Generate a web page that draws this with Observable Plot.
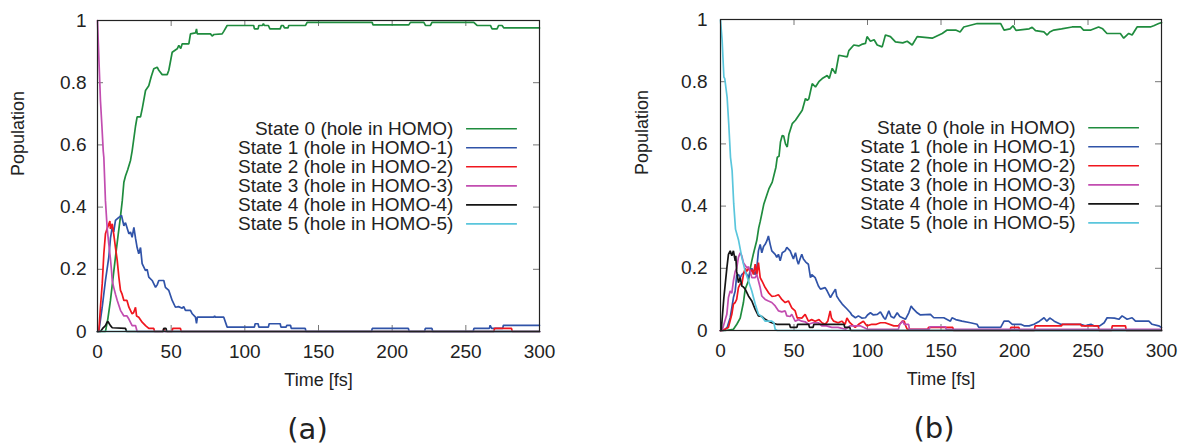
<!DOCTYPE html>
<html><head><meta charset="utf-8">
<script src="https://cdn.jsdelivr.net/npm/d3@7"></script>
<script src="https://cdn.jsdelivr.net/npm/@observablehq/plot@0.6"></script>
<style>
body{margin:0;background:#fff;}
#wrap{display:flex;width:1181px;height:448px;overflow:hidden;}
svg{display:block;}
</style>
</head><body><div id="wrap"></div>
<script>
// ---------- data ----------
const xTicks = [0, 50, 100, 150, 200, 250, 300];
const yTicks = [0, 0.2, 0.4, 0.6, 0.8, 1];
const stateLabels = [
  "State 0 (hole in HOMO)", "State 1 (hole in HOMO-1)", "State 2 (hole in HOMO-2)",
  "State 3 (hole in HOMO-3)", "State 4 (hole in HOMO-4)", "State 5 (hole in HOMO-5)"
];
const stateColors = ["#1f8c3e", "#3053a8", "#f0161e", "#c24db0", "#151515", "#5ac6dc"];
const panelLabels = ["(a)", "(b)"];
const xLabel = "Time [fs]";
const yLabel = "Population";

// panel (a): [time fs, population]
const a0 = [[0,0],[5.4,0],[7,0.04],[8.8,0.10],[10.5,0.17],[12.2,0.24],[14,0.31],[15.6,0.37],[16.8,0.42],[17.9,0.48],[19,0.5],[20.5,0.52],[22.4,0.55],[23.5,0.58],[25.8,0.66],[26.9,0.69],[29.2,0.69],[30.5,0.72],[32.6,0.775],[34.8,0.79],[36.5,0.82],[38.2,0.845],[40.5,0.85],[41.6,0.84],[43.9,0.826],[47.3,0.826],[48.4,0.84],[50.7,0.898],[54.1,0.909],[55.2,0.92],[56.5,0.91],[57.5,0.925],[62,0.925],[63.1,0.957],[66.5,0.96],[67.2,0.973],[67.7,0.957],[76.7,0.957],[77.8,0.95],[79,0.955],[84.6,0.957],[85.7,0.965],[88,0.984],[106,0.984],[106.5,0.973],[109,0.973],[109.5,0.984],[112,0.984],[112.6,0.99],[113.2,0.984],[116,0.984],[117,0.973],[124,0.973],[124.8,0.984],[126,0.984],[127,0.976],[129.3,0.976],[129.8,0.984],[141.2,0.984],[142.3,0.994],[186.4,0.994],[187,0.986],[211.3,0.986],[212.4,0.994],[221.5,0.994],[222.6,0.984],[226,0.984],[227,0.994],[255.4,0.994],[256.5,0.989],[257.6,0.984],[266.7,0.984],[267.8,0.973],[271.2,0.973],[272.3,0.984],[274.6,0.984],[275.8,0.976],[300,0.976]];
const a1 = [[0,0],[0.9,0],[3.2,0.078],[5.4,0.164],[7.7,0.24],[8.8,0.30],[10,0.335],[11,0.32],[12.2,0.357],[14.5,0.367],[16.3,0.373],[17.9,0.34],[19,0.35],[21.3,0.314],[22.4,0.32],[23.5,0.303],[24.7,0.335],[25.8,0.3],[26.9,0.27],[28,0.25],[29.2,0.27],[30.3,0.218],[32.6,0.196],[33.7,0.2],[34.8,0.175],[37.1,0.164],[39.4,0.142],[40.5,0.15],[41.6,0.164],[45,0.164],[46.1,0.142],[48.4,0.132],[50.7,0.10],[52.9,0.078],[55,0.08],[57.5,0.075],[58.5,0.08],[59.7,0.068],[63.1,0.068],[64.3,0.057],[66.5,0.046],[67.2,0.026],[67.8,0.046],[79,0.046],[79.5,0.05],[80,0.046],[85.7,0.046],[88,0.014],[106.5,0.014],[107,0.025],[109,0.025],[109.5,0.014],[116,0.014],[116.5,0.025],[124,0.025],[124.5,0.014],[128,0.014],[128.5,0.02],[131,0.02],[131.5,0.01],[141,0.01],[141.5,0],[186,0],[186.5,0.01],[211,0.01],[211.5,0],[222,0],[222.5,0.01],[227,0.01],[227.5,0],[255,0],[255.5,0.01],[266,0.01],[266.5,0.02],[267.5,0.01],[275,0.01],[275.5,0.02],[300,0.02]];
const a2 = [[0,0],[0.9,0],[2,0.078],[3.2,0.153],[4.3,0.25],[5.4,0.314],[6.5,0.33],[7.7,0.346],[8.4,0.355],[8.8,0.33],[10,0.346],[11,0.314],[12.2,0.27],[13.4,0.228],[14.5,0.175],[15.6,0.132],[16.7,0.12],[17.9,0.10],[20,0.10],[21.3,0.078],[23.5,0.057],[24.5,0.06],[25.8,0.078],[26.5,0.05],[28,0.046],[30.3,0.03],[32.6,0.019],[34.8,0.01],[38.2,0.01],[38.7,0],[44.5,0],[45,0.01],[46,0],[50.7,0],[51,0.01],[56.3,0.01],[56.8,0],[269,0],[269.5,0.01],[281,0.01],[281.5,0],[300,0]];
const a3 = [[0,1],[1,0.87],[2,0.743],[3,0.66],[3.9,0.58],[4.3,0.56],[5.4,0.42],[6.6,0.33],[7.7,0.28],[8.8,0.233],[9.5,0.196],[10,0.164],[11,0.142],[12.2,0.12],[13.4,0.10],[15.6,0.068],[17.9,0.05],[20,0.05],[21.3,0.04],[23.5,0.019],[25.8,0.019],[26.9,0],[300,0]];
const a4 = [[0,0],[2,0],[3.5,0.01],[5.4,0.019],[6.5,0.03],[7.2,0.032],[8,0.025],[8.8,0.019],[10,0.012],[19,0.01],[19.7,0],[44.5,0],[45,0.01],[46.5,0.01],[47,0],[300,0]];
const a5 = [[0,0],[300,0]];

// panel (b): [time fs, population]
const b0 = [[0,0],[3.2,0],[8.8,0.004],[11.1,0.02],[13.4,0.04],[15.6,0.09],[16.8,0.133],[19,0.16],[20.4,0.203],[21.3,0.224],[22.4,0.247],[24.7,0.29],[26,0.33],[27,0.35],[29.5,0.407],[31.8,0.44],[32.9,0.455],[35.2,0.477],[37.7,0.525],[38.6,0.557],[39.8,0.56],[40.8,0.606],[42,0.627],[43,0.625],[44.2,0.60],[45.4,0.59],[46.5,0.63],[48.8,0.665],[51,0.676],[53.3,0.692],[55.6,0.708],[57.8,0.746],[59,0.74],[60.1,0.745],[62.4,0.794],[64.6,0.783],[66.9,0.80],[69.2,0.81],[72.6,0.82],[74,0.81],[76,0.843],[78.2,0.826],[80.5,0.885],[86.2,0.88],[87.3,0.90],[90.7,0.918],[94,0.915],[96,0.92],[98.6,0.923],[99.7,0.945],[102,0.93],[104.5,0.935],[106.6,0.918],[110,0.912],[112.2,0.95],[115.6,0.945],[119,0.928],[124,0.925],[127,0.93],[130.4,0.918],[133.8,0.945],[144,0.94],[150.8,0.955],[154.2,0.966],[160,0.966],[163,0.96],[165.5,0.976],[174.6,0.987],[190.6,0.987],[192.9,0.966],[197,0.97],[199,0.98],[201,0.965],[210,0.97],[212,0.975],[214.3,0.964],[220,0.96],[222.2,0.95],[224,0.96],[226.7,0.966],[232,0.97],[239.2,0.976],[245,0.976],[247,0.966],[252,0.966],[257.2,0.976],[260,0.97],[262.9,0.955],[272,0.955],[274.3,0.94],[277.7,0.955],[280,0.95],[283.4,0.976],[292.4,0.976],[294.7,0.98],[298.1,0.987],[300,0.99]];
const b1 = [[0,0],[2.3,0],[4.5,0.01],[6.6,0.041],[7.7,0.073],[8.8,0.106],[10,0.127],[11,0.176],[12.2,0.18],[13.4,0.17],[14.5,0.18],[16.8,0.19],[19,0.17],[21.3,0.2],[23.6,0.18],[24.7,0.2],[25.8,0.256],[27,0.277],[28.1,0.25],[29.3,0.27],[30.4,0.277],[31.5,0.288],[32.6,0.304],[33.8,0.277],[34.9,0.256],[37.2,0.245],[38.3,0.235],[39.4,0.245],[40.6,0.224],[42,0.25],[44,0.256],[45.1,0.267],[47.4,0.256],[49.6,0.23],[51,0.25],[52.2,0.224],[53,0.213],[54.1,0.23],[55.3,0.245],[56.4,0.23],[58,0.22],[59.8,0.213],[61.2,0.17],[62.1,0.18],[64.4,0.17],[66.6,0.143],[68,0.133],[71.2,0.138],[72.6,0.127],[74.8,0.106],[76.5,0.12],[78.2,0.133],[79.1,0.11],[80.5,0.1],[82.8,0.085],[85.9,0.07],[88.4,0.057],[89.3,0.05],[91.8,0.041],[93.8,0.047],[96.1,0.04],[98.6,0.041],[100,0.05],[102,0.057],[104,0.05],[106.7,0.052],[108.8,0.06],[111.1,0.041],[112.2,0.036],[114.5,0.063],[116,0.045],[118,0.04],[120.2,0.057],[122,0.045],[125.8,0.036],[128.1,0.057],[129.7,0.079],[131,0.07],[133.8,0.057],[136,0.05],[142.8,0.052],[145.1,0.041],[151.9,0.041],[156.4,0.03],[157.5,0.041],[160,0.035],[164.3,0.03],[170,0.025],[174.5,0.02],[175.7,0.01],[190.6,0.01],[192.9,0.03],[196,0.03],[198.5,0.02],[204.3,0.02],[206.5,0.015],[210,0.015],[213.3,0.02],[217,0.03],[220.1,0.041],[222,0.03],[224,0.04],[225.7,0.035],[227,0.03],[231.4,0.02],[245,0.02],[248,0.015],[252,0.02],[254,0.015],[258,0.015],[261,0.025],[263,0.041],[268,0.04],[271,0.036],[273.2,0.047],[276.6,0.036],[280,0.041],[282.3,0.03],[291.4,0.03],[293.6,0.02],[298.1,0.015],[300,0.01]];
const b2 = [[0,0],[1.1,0],[5.4,0.01],[7.7,0.052],[8.8,0.085],[10,0.09],[11,0.1],[12.2,0.138],[13.4,0.15],[14.5,0.148],[15.6,0.18],[16.8,0.2],[17.9,0.19],[19,0.2],[20.2,0.19],[21.3,0.195],[22.4,0.18],[23.6,0.213],[24.7,0.18],[25.8,0.218],[27,0.17],[28.1,0.16],[30.4,0.138],[32.6,0.122],[34.9,0.11],[37.2,0.111],[39.4,0.115],[40.8,0.106],[41.7,0.1],[44,0.09],[46.2,0.095],[48.5,0.073],[50.8,0.063],[52.2,0.04],[53,0.041],[55.3,0.04],[57.6,0.052],[59.8,0.03],[62,0.035],[64.4,0.03],[67,0.035],[69,0.025],[71.2,0.02],[73,0.03],[74.6,0.063],[75.5,0.04],[77,0.03],[80,0.025],[82.5,0.03],[84.8,0.02],[86,0.04],[88,0.025],[91.6,0.01],[94,0.02],[97.2,0.03],[99.5,0.015],[103,0.02],[106,0.02],[108.8,0.025],[112,0.025],[117.9,0.015],[121,0.015],[123.6,0.03],[125,0.03],[126,0.015],[127,0.004],[141,0.004],[141.5,0.01],[158,0.01],[158.5,0],[197,0],[197.5,0.01],[203,0.01],[203.5,0],[213.5,0],[214,0.015],[232,0.015],[232.5,0.02],[245,0.02],[245.5,0.015],[257,0.015],[257.5,0],[266,0],[266.5,0.015],[275.5,0.015],[276,0],[300,0]];
const b3 = [[0,0],[1.1,0],[4.3,0.052],[5.4,0.106],[6.6,0.127],[7.7,0.12],[8.8,0.16],[10,0.19],[11,0.2],[12.2,0.235],[13.4,0.25],[14.5,0.24],[15.6,0.218],[17.9,0.202],[19,0.205],[20.2,0.19],[21.3,0.17],[23.6,0.17],[24.7,0.18],[25.8,0.16],[27,0.138],[28.1,0.111],[30.4,0.1],[32.6,0.095],[34.9,0.09],[37.2,0.079],[39.5,0.063],[41.7,0.06],[44,0.063],[45.1,0.047],[47.4,0.045],[48.5,0.052],[50.8,0.03],[53,0.035],[55.3,0.03],[57.6,0.028],[59.8,0.02],[63,0.025],[66.6,0.025],[68.9,0.015],[72,0.015],[75.7,0.01],[80,0.01],[85,0.004],[88,0.015],[95,0.015],[100,0.004],[121,0.004],[122,0.02],[124,0.03],[125,0.02],[128,0.02],[128.5,0.004],[142,0.004],[142.5,0.012],[153,0.012],[153.5,0.004],[300,0.004]];
const b4 = [[0,0],[0.5,0],[2.3,0.106],[4.3,0.2],[5.4,0.245],[6.6,0.256],[7.7,0.24],[8.8,0.256],[10,0.224],[10.4,0.24],[11,0.19],[12.2,0.154],[13.4,0.17],[14.5,0.143],[15.6,0.14],[16.8,0.133],[19,0.111],[21.3,0.095],[23.6,0.068],[25.8,0.047],[28.1,0.045],[30.4,0.036],[32.6,0.03],[34.9,0.025],[38.3,0.02],[40.8,0.02],[47,0.02],[47.5,0.01],[52,0.01],[52.5,0.02],[60,0.02],[60.5,0.01],[63,0.01],[63.5,0.02],[84,0.02],[84.5,0.01],[88,0.01],[88.5,0],[300,0]];
const b5 = [[0,0.998],[1.1,0.934],[2.3,0.815],[2.9,0.81],[4.5,0.75],[5.6,0.665],[6.8,0.557],[7.9,0.514],[9,0.407],[10.2,0.326],[12.3,0.29],[13.5,0.26],[14.5,0.235],[16.8,0.19],[19,0.16],[21.3,0.127],[23.6,0.085],[25.8,0.052],[28,0.045],[30.4,0.03],[34.9,0.03],[36.3,0.025],[37.2,0.004],[38.6,0],[300,0]];

// ---------- drawing ----------
const FONT = "'Liberation Sans', Arial, sans-serif";
const TEXT = "#222";

function panel(series, cfg) {
  const plotW = cfg.width - cfg.ml - cfg.mr;
  const plotH = 448 - cfg.mt - cfg.mb;
  const marks = [];
  // inner ticks (gnuplot style, mirrored)
  marks.push(Plot.tickX(xTicks, {x: d => d, insetTop: plotH - 6, stroke: "#777"}));
  marks.push(Plot.tickX(xTicks, {x: d => d, insetBottom: plotH - 6, stroke: "#777"}));
  marks.push(Plot.tickY(yTicks, {y: d => d, insetRight: plotW - 6, stroke: "#777"}));
  marks.push(Plot.tickY(yTicks, {y: d => d, insetLeft: plotW - 6, stroke: "#777"}));
  // tick labels
  marks.push(Plot.axisX(xTicks, {tickSize: 0, tickPadding: 13, label: null, fontSize: 19, fill: TEXT}));
  marks.push(Plot.axisY(yTicks, {tickSize: 0, tickPadding: cfg.yPad, label: null, fontSize: 19, fill: TEXT, tickFormat: d => String(d)}));
  // series
  series.forEach((s, i) => {
    marks.push(Plot.line(s, {x: d => d[0], y: d => d[1], stroke: stateColors[i], strokeWidth: 1.7, strokeLinejoin: "miter"}));
  });
  // legend (positions in data space of the frame)
  const legTextX = 241.6, legX1 = 250.5, legX2 = 285, legY0 = 0.652, legStep = 0.0612;
  stateLabels.forEach((lab, i) => {
    const yy = legY0 - i * legStep;
    marks.push(Plot.text([lab], {x: legTextX, y: yy, text: d => d, textAnchor: "end", fontSize: 19, fill: TEXT}));
    marks.push(Plot.ruleY([yy], {x1: legX1, x2: legX2, stroke: stateColors[i], strokeWidth: 1.6}));
  });
  // frame
  marks.push(Plot.frame({stroke: "#222", strokeWidth: 1.2}));
  // axis titles and panel label
  marks.push(Plot.text([yLabel], {text: d => d, frameAnchor: "left", rotate: -90, dx: cfg.yLabDx, fontSize: 18, fill: TEXT}));
  marks.push(Plot.text([xLabel], {text: d => d, frameAnchor: "bottom", dy: 54, fontSize: 18, fill: TEXT}));
  marks.push(Plot.text([cfg.panel], {text: d => d, frameAnchor: "bottom", dx: cfg.panDx, dy: 107, fontSize: 29, fontFamily: "'DejaVu Sans', sans-serif", fill: TEXT}));
  return Plot.plot({
    width: cfg.width, height: 448,
    marginLeft: cfg.ml, marginRight: cfg.mr, marginTop: cfg.mt, marginBottom: cfg.mb,
    style: {fontFamily: FONT, background: "#fff", color: TEXT, overflow: "visible"},
    x: {domain: [0, 300]},
    y: {domain: [0, 1]},
    marks
  });
}

const wrap = document.getElementById("wrap");
wrap.appendChild(panel([a0, a1, a2, a3, a4, a5], {width: 590, ml: 97, mr: 51, mt: 20, mb: 117, yPad: 11, yLabDx: -79, panDx: -11, panel: panelLabels[0]}));
wrap.appendChild(panel([b0, b1, b2, b3, b4, b5], {width: 591, ml: 130, mr: 20, mt: 19, mb: 118, yPad: 13, yLabDx: -78, panDx: -7, panel: panelLabels[1]}));
</script>
</body></html>
